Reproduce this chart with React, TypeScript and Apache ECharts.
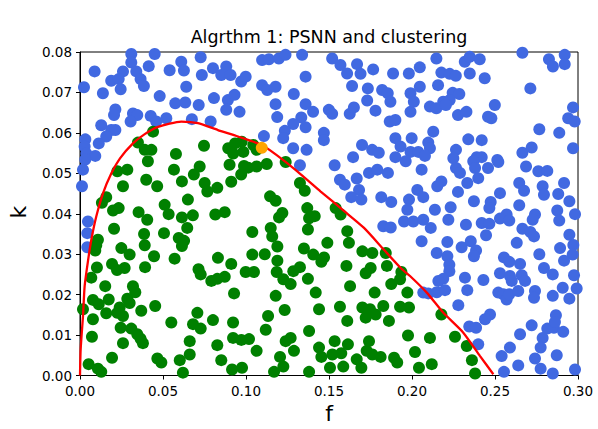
import React, { useEffect, useRef } from "react";
import * as echarts from "echarts";

// [f, k] pairs
const bluePoints: number[][] = [
  [0.0309,0.0795],[0.0450,0.0795],[0.0727,0.0787],[0.0309,0.0774],[0.0414,0.0765],[0.0088,0.0752],[0.0259,0.0752],[0.0339,0.0752],[0.0540,0.0755],[0.0610,0.0776],[0.0626,0.0754],[0.0801,0.0760],[0.0881,0.0764],[0.0851,0.0743],[0.0907,0.0743],[0.0734,0.0743],[0.0188,0.0729],[0.0233,0.0733],[0.0365,0.0733],[0.0385,0.0716],[0.0024,0.0713],[0.0138,0.0698],[0.0245,0.0708],[0.0640,0.0714],[0.0971,0.0727],[0.0480,0.0691],[0.0574,0.0673],[0.0634,0.0675],[0.0715,0.0669],[0.0807,0.0686],[0.0891,0.0681],[0.0931,0.0694],[0.0881,0.0657],[0.0961,0.0652],[0.0213,0.0658],[0.0205,0.0644],[0.0319,0.0648],[0.0345,0.0644],[0.0305,0.0628],[0.0426,0.0642],[0.0459,0.0628],[0.0520,0.0636],[0.0674,0.0634],[0.0787,0.0628],[0.0128,0.0619],[0.0188,0.0607],[0.0213,0.0607],[0.0158,0.0591],[0.0032,0.0584],[0.0113,0.0574],[0.0028,0.0566],[0.0038,0.0549],[0.0092,0.0543],
  [0.1097,0.0780],[0.1138,0.0782],[0.1198,0.0784],[0.1238,0.0793],[0.1338,0.0793],[0.1519,0.0784],[0.1569,0.0768],[0.1669,0.0770],[0.1609,0.0747],[0.1690,0.0746],[0.1766,0.0757],[0.1886,0.0747],[0.1981,0.0747],[0.0998,0.0739],[0.1359,0.0739],[0.1097,0.0718],[0.1128,0.0706],[0.1178,0.0714],[0.1288,0.0696],[0.1639,0.0716],[0.1734,0.0710],[0.1820,0.0706],[0.1854,0.0698],[0.1870,0.0677],[0.1991,0.0698],[0.1730,0.0680],[0.1178,0.0671],[0.1359,0.0671],[0.1404,0.0652],[0.1499,0.0657],[0.1519,0.0647],[0.1625,0.0647],[0.1650,0.0663],[0.1780,0.0655],[0.1866,0.0628],[0.1900,0.0632],[0.1991,0.0652],[0.1188,0.0639],[0.1333,0.0638],[0.1284,0.0622],[0.1359,0.0614],[0.1234,0.0605],[0.1469,0.0600],[0.1469,0.0582],[0.1224,0.0587],[0.1108,0.0592],[0.1900,0.0587],[0.1699,0.0570],[0.1760,0.0558],[0.1800,0.0551],[0.1931,0.0566],[0.1991,0.0553],[0.1284,0.0562],[0.1365,0.0558],[0.1645,0.0540],[0.1900,0.0540],
  [0.2147,0.0784],[0.2318,0.0776],[0.2348,0.0788],[0.2408,0.0782],[0.2665,0.0798],[0.2825,0.0782],[0.2849,0.0764],[0.2920,0.0793],[0.2920,0.0770],[0.2047,0.0762],[0.2177,0.0749],[0.2227,0.0746],[0.2264,0.0741],[0.2348,0.0747],[0.2438,0.0735],[0.2157,0.0718],[0.2047,0.0714],[0.2713,0.0710],[0.2011,0.0677],[0.2245,0.0699],[0.2285,0.0696],[0.2188,0.0677],[0.2227,0.0681],[0.2108,0.0665],[0.2147,0.0661],[0.2204,0.0669],[0.2277,0.0644],[0.2328,0.0652],[0.2499,0.0669],[0.2458,0.0640],[0.2478,0.0636],[0.2970,0.0663],[0.2941,0.0636],[0.2980,0.0628],[0.2767,0.0609],[0.2887,0.0600],[0.2128,0.0603],[0.1998,0.0587],[0.2098,0.0576],[0.2108,0.0562],[0.2038,0.0553],[0.2078,0.0543],[0.2265,0.0558],[0.2249,0.0537],[0.2339,0.0584],[0.2420,0.0582],[0.2665,0.0551],[0.2721,0.0564],[0.2390,0.0540],[0.2420,0.0540],[0.2514,0.0533],[0.2970,0.0562],
  [0.0032,0.0534],[0.0018,0.0509],[0.0012,0.0468],[0.0048,0.0381],[0.0044,0.0352],[0.0044,0.0317],
  [0.1325,0.0520],[0.1534,0.0520],[0.1566,0.0484],[0.1595,0.0472],[0.1667,0.0487],[0.1681,0.0459],[0.1634,0.0441],[0.1695,0.0435],[0.1741,0.0501],[0.1791,0.0509],[0.1855,0.0501],[0.1962,0.0530],[0.1815,0.0441],[0.1875,0.0429],[0.1982,0.0435],[0.1972,0.0410],[0.1952,0.0381],[0.1827,0.0369],[0.1872,0.0366],
  [0.2265,0.0513],[0.2289,0.0501],[0.2369,0.0530],[0.2380,0.0513],[0.2458,0.0513],[0.2520,0.0528],[0.2399,0.0488],[0.2333,0.0476],[0.2277,0.0454],[0.2177,0.0480],[0.2152,0.0468],[0.2058,0.0509],[0.2032,0.0459],[0.2068,0.0441],[0.2138,0.0410],[0.2233,0.0416],[0.2373,0.0431],[0.2474,0.0429],[0.2466,0.0414],[0.2530,0.0451],[0.2646,0.0476],[0.2675,0.0457],[0.2687,0.0517],[0.2761,0.0505],[0.2815,0.0506],[0.2787,0.0468],[0.2795,0.0447],[0.2916,0.0476],[0.2881,0.0449],[0.2948,0.0431],[0.2875,0.0408],[0.2887,0.0383],[0.2982,0.0399],[0.2646,0.0421],[0.2741,0.0398],[0.2727,0.0385],[0.2570,0.0398],[0.2530,0.0388],[0.2586,0.0383],[0.2420,0.0377],[0.2466,0.0375],[0.2325,0.0373],[0.2219,0.0385],[0.2008,0.0381],[0.2068,0.0385],[0.2113,0.0365],[0.2665,0.0363],[0.2713,0.0355],[0.2735,0.0344],[0.2446,0.0347],[0.2058,0.0332],[0.2213,0.0330],[0.2299,0.0317],[0.2354,0.0332],[0.2386,0.0309],[0.2373,0.0295],[0.2149,0.0303],[0.2213,0.0295],[0.2225,0.0274],[0.2631,0.0328],[0.2767,0.0300],[0.2554,0.0292],[0.2586,0.0281],[0.2651,0.0276],[0.2948,0.0348],[0.2972,0.0323],[0.2892,0.0315],[0.2968,0.0299],[0.2916,0.0284],[0.2795,0.0266],
  [0.2225,0.0258],[0.2188,0.0239],[0.2159,0.0234],[0.2319,0.0242],[0.2430,0.0236],[0.2530,0.0253],[0.2590,0.0246],[0.2601,0.0234],[0.2661,0.0248],[0.2681,0.0234],[0.2848,0.0250],[0.2976,0.0248],[0.2068,0.0205],[0.2098,0.0203],[0.2149,0.0206],[0.2199,0.0211],[0.2333,0.0211],[0.2279,0.0174],[0.2520,0.0205],[0.2550,0.0201],[0.2570,0.0188],[0.2586,0.0201],[0.2640,0.0209],[0.2741,0.0209],[0.2735,0.0192],[0.2848,0.0197],[0.2908,0.0217],[0.2948,0.0190],[0.2992,0.0215],[0.2470,0.0151],[0.2440,0.0139],[0.2345,0.0121],[0.2386,0.0118],[0.2399,0.0077],[0.2651,0.0102],[0.2721,0.0124],[0.2815,0.0116],[0.2855,0.0118],[0.2867,0.0149],[0.2861,0.0132],[0.2911,0.0108],[0.2787,0.0093],[0.2775,0.0069],[0.2590,0.0069],[0.2540,0.0048],[0.2741,0.0042],[0.2640,0.0025],[0.2872,0.0050],[0.2775,0.0017],[0.2554,0.0009],[0.2848,0.0005],[0.2982,0.0015],
];

const greenPoints: number[][] = [
  [0.0440,0.0603],[0.0349,0.0576],[0.0747,0.0568],[0.0390,0.0558],[0.0430,0.0558],[0.0578,0.0548],[0.0893,0.0562],[0.0934,0.0574],[0.0974,0.0578],[0.0923,0.0549],[0.0984,0.0553],[0.1044,0.0570],[0.1064,0.0558],
  [0.0225,0.0505],[0.0285,0.0509],[0.0409,0.0530],[0.0721,0.0517],[0.0901,0.0521],[0.0971,0.0497],[0.0988,0.0518],[0.1013,0.0514],[0.0566,0.0509],[0.0399,0.0484],[0.0465,0.0468],[0.0259,0.0468],[0.0614,0.0480],[0.0686,0.0497],[0.0751,0.0476],[0.0767,0.0455],[0.0827,0.0464],[0.0911,0.0479],[0.0158,0.0441],[0.0132,0.0427],[0.0199,0.0408],[0.0233,0.0414],[0.0353,0.0404],[0.0405,0.0385],[0.0510,0.0422],[0.0534,0.0399],[0.0650,0.0435],[0.0614,0.0391],[0.0680,0.0396],[0.0815,0.0398],[0.0872,0.0404],[0.0205,0.0363],[0.0386,0.0350],[0.0506,0.0352],[0.0646,0.0365],[0.0595,0.0340],[0.0627,0.0333],[0.0614,0.0320],[0.0108,0.0336],[0.0098,0.0322],[0.0092,0.0309],[0.0249,0.0315],[0.0299,0.0299],[0.0390,0.0322],[0.0446,0.0295],[0.0570,0.0289],[0.0831,0.0291],[0.0911,0.0276],[0.0714,0.0263],
  [0.1064,0.0517],[0.1125,0.0523],[0.1239,0.0528],[0.1325,0.0476],[0.1354,0.0457],[0.1145,0.0443],[0.1179,0.0432],[0.1369,0.0414],[0.1219,0.0402],[0.1199,0.0391],[0.1380,0.0389],[0.1414,0.0394],[0.1540,0.0414],[0.1570,0.0398],[0.1373,0.0361],[0.1038,0.0355],[0.1149,0.0365],[0.1158,0.0344],[0.1610,0.0357],[0.1620,0.0328],[0.1490,0.0328],[0.1189,0.0319],[0.1349,0.0314],[0.1405,0.0299],[0.1470,0.0292],[0.1454,0.0281],[0.1038,0.0299],[0.1113,0.0300],[0.1701,0.0307],[0.1761,0.0303],[0.1842,0.0303],[0.1849,0.0271],[0.1751,0.0266],[0.1189,0.0284],[0.1325,0.0268],[0.1605,0.0271],
  [0.0102,0.0267],[0.0193,0.0276],[0.0223,0.0261],[0.0269,0.0266],[0.0392,0.0268],[0.0068,0.0242],[0.0152,0.0221],[0.0319,0.0221],[0.0333,0.0206],[0.0078,0.0187],[0.0113,0.0176],[0.0173,0.0188],[0.0285,0.0190],[0.0299,0.0179],[0.0239,0.0168],[0.0225,0.0155],[0.0259,0.0147],[0.0158,0.0154],[0.0369,0.0160],[0.0453,0.0172],[0.0078,0.0139],[0.0245,0.0118],[0.0309,0.0116],[0.0345,0.0102],[0.0365,0.0091],[0.0379,0.0080],[0.0259,0.0080],[0.0072,0.0096],[0.0193,0.0044],[0.0466,0.0042],[0.0490,0.0032],[0.0052,0.0028],[0.0108,0.0017],[0.0128,0.0009],[0.0550,0.0131],[0.0601,0.0038],[0.0681,0.0127],[0.0707,0.0155],[0.0727,0.0116],[0.0801,0.0137],[0.0727,0.0250],[0.0791,0.0234],[0.0827,0.0239],[0.0872,0.0244],[0.0928,0.0203],[0.0922,0.0131],[0.0922,0.0093],[0.0972,0.0088],[0.0827,0.0075],[0.0661,0.0085],[0.0661,0.0052],[0.0851,0.0038],[0.0916,0.0015],[0.0976,0.0019],[0.0620,0.0007],[0.0018,0.0164],
  [0.0998,0.0256],[0.1048,0.0256],[0.1185,0.0256],[0.1225,0.0238],[0.1269,0.0226],[0.1285,0.0258],[0.1373,0.0239],[0.1420,0.0205],[0.1179,0.0197],[0.1233,0.0162],[0.1133,0.0147],[0.1119,0.0113],[0.1018,0.0090],[0.1064,0.0061],[0.1239,0.0085],[0.1269,0.0093],[0.1289,0.0061],[0.1205,0.0046],[0.1225,0.0022],[0.1169,0.0009],[0.1380,0.0110],[0.1440,0.0069],[0.1454,0.0046],[0.1380,0.0009],[0.1506,0.0019],[0.1520,0.0052],[0.1534,0.0085],[0.1574,0.0055],[0.1614,0.0077],[0.1586,0.0022],[0.1667,0.0040],[0.1695,0.0019],[0.1440,0.0164],[0.1566,0.0170],[0.1610,0.0135],[0.1701,0.0168],[0.1721,0.0143],[0.1747,0.0164],[0.1781,0.0151],[0.1827,0.0172],[0.1861,0.0135],[0.1928,0.0170],[0.1982,0.0168],[0.1775,0.0205],[0.1875,0.0226],[0.1928,0.0238],[0.1936,0.0256],[0.1972,0.0205],[0.1627,0.0221],[0.1721,0.0253],[0.1741,0.0085],[0.1727,0.0061],[0.1761,0.0052],[0.1811,0.0046],[0.1892,0.0044],[0.1911,0.0032],[0.1976,0.0099],[0.2177,0.0151],[0.2108,0.0093],[0.2259,0.0096],[0.2330,0.0073],[0.2018,0.0058],[0.2042,0.0019],[0.2119,0.0028],[0.2361,0.0038],[0.2380,0.0005],
];

const orangePoints: number[][] = [[0.1095, 0.0563]];

const curveF = [0,0.0004,0.0018,0.0028,0.0048,0.0068,0.0098,0.0139,0.0189,0.0241,0.0319,0.0390,0.0470,0.0610,0.0711,0.0831,0.0952,0.1095,0.1185,0.1309,0.1450,0.1590,0.1711,0.1831,0.1932,0.1988,0.2089,0.2189,0.2309,0.2410,0.2490];
const curveK = [0,0.0065,0.0147,0.0221,0.0283,0.0335,0.0393,0.0451,0.0500,0.0537,0.0574,0.0597,0.0615,0.0628,0.0624,0.0607,0.0591,0.0570,0.0545,0.0505,0.0455,0.0407,0.0365,0.0311,0.0266,0.0246,0.0205,0.0155,0.0106,0.0048,0.0003];

const titleText = "Algrthm 1: PSNN and clustering";
const xName = "f";
const yName = "k";

export default function App() {
  const ref = useRef<HTMLDivElement>(null);
  useEffect(() => {
    if (!ref.current) return;
    const chart = echarts.init(ref.current, undefined, { renderer: "svg" });
    const font = "DejaVu Sans";
    const axisCommon = {
      axisLine: { show: true, onZero: false, lineStyle: { color: "#000", width: 1 } },
      axisTick: { show: true, inside: false, length: 4, lineStyle: { color: "#000", width: 1 } },
      splitLine: { show: false },
    };
    chart.setOption({
      animation: false,
      backgroundColor: "#fff",
      grid: { left: 80, right: 20, top: 52, bottom: 53.5, show: true, borderColor: "#000", borderWidth: 1, backgroundColor: "transparent" },
      xAxis: {
        type: "value", min: 0, max: 0.3, interval: 0.05, ...axisCommon,
        axisLabel: { color: "#000", fontSize: 13.5, fontFamily: font, margin: 8, formatter: (v: number) => v.toFixed(2) },
      },
      yAxis: {
        type: "value", min: 0, max: 0.08, interval: 0.01, ...axisCommon,
        axisLabel: { color: "#000", fontSize: 13.5, fontFamily: font, margin: 8, formatter: (v: number) => v.toFixed(2) },
      },
      graphic: [
        { type: "text", x: 329, y: 37, style: { text: titleText, fill: "#000", font: `17.5px "${font}"`, textAlign: "center", textVerticalAlign: "middle" } },
        { type: "text", x: 329, y: 413, style: { text: xName, fill: "#000", font: `22px "${font}"`, textAlign: "center", textVerticalAlign: "middle" } },
        { type: "text", x: 18, y: 212, rotation: Math.PI / 2, style: { text: yName, fill: "#000", font: `22px "${font}"`, textAlign: "center", textVerticalAlign: "middle" } },
      ],
      series: [
        { type: "scatter", data: bluePoints, symbolSize: 12, itemStyle: { color: "#4169E1", opacity: 1 }, z: 2 },
        { type: "scatter", data: greenPoints, symbolSize: 12, itemStyle: { color: "#008000", opacity: 1 }, z: 2 },
        { type: "line", data: curveF.map((f, i) => [f, curveK[i]]), showSymbol: false, symbol: "none", smooth: 0.2, lineStyle: { color: "#FF0000", width: 2.3 }, z: 3 },
        { type: "scatter", data: orangePoints, symbolSize: 12, itemStyle: { color: "#FFA500", opacity: 1 }, z: 4 },
      ],
    });
    return () => chart.dispose();
  }, []);
  return <div ref={ref} style={{ position: "fixed", left: 0, top: 0, width: 598, height: 429 }} />;
}
